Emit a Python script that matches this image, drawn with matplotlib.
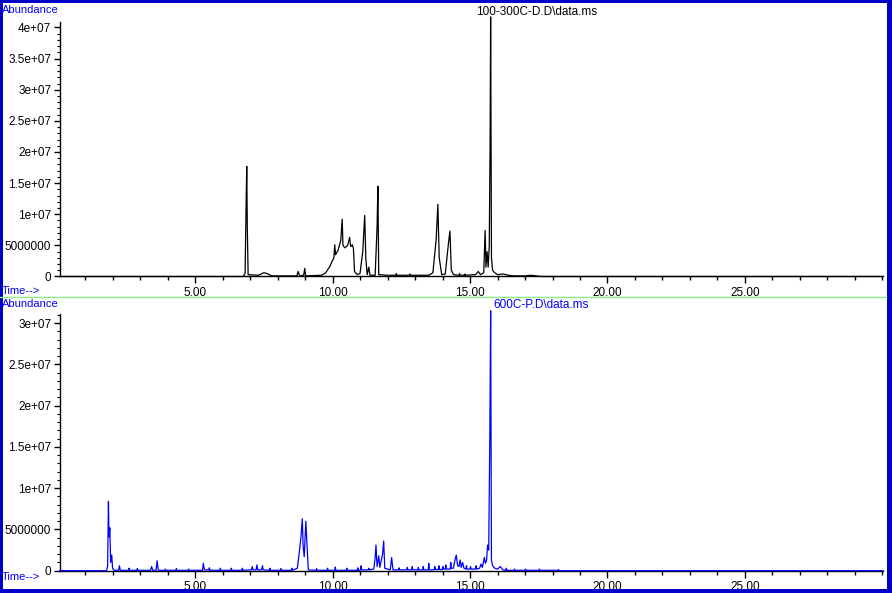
import numpy as np
import matplotlib
matplotlib.use("Agg")
import matplotlib.pyplot as plt
from matplotlib.ticker import FixedLocator, MultipleLocator, FixedFormatter
from matplotlib.lines import Line2D
from matplotlib.patches import Rectangle

plt.rcParams['font.family'] = ['Liberation Sans', 'DejaVu Sans']

# ---------------- data ----------------
top_title = "100-300C-D.D\\data.ms"
bottom_title = "600C-P.D\\data.ms"

# top chromatogram (time in min, abundance in millions)
top_time = [0.07, 6.75, 6.82, 6.86, 6.88, 6.90, 6.93, 7.3, 7.5, 7.6, 7.8, 8.7, 8.75, 8.8,
            8.95, 8.99, 9.02, 9.6, 9.75, 9.9, 10.0, 10.05, 10.08, 10.11, 10.2, 10.3, 10.35,
            10.38, 10.45, 10.55, 10.62, 10.66, 10.72, 10.76, 10.8, 10.9, 11.0, 11.1, 11.17,
            11.21, 11.26, 11.32, 11.36, 11.55, 11.62, 11.65, 11.68, 12.0, 12.3, 12.32, 12.34,
            12.8, 12.82, 12.84, 13.5,
            13.65, 13.77, 13.83, 13.88, 13.97, 14.1, 14.22, 14.27, 14.32, 14.4, 14.6, 14.62,
            14.64, 14.8, 14.82, 14.84, 15.2,
            15.3, 15.38, 15.5, 15.55, 15.58, 15.62, 15.66, 15.70, 15.73, 15.75, 15.78, 15.82,
            15.9, 16.0, 16.2, 16.4, 16.6, 17.0, 17.2, 17.4, 17.6, 30.02]
top_abund = [0, 0, 0.5, 12.5, 17.7, 8.0, 0.3, 0.2, 0.6, 0.5, 0.1, 0.1, 0.8, 0.1,
             0.2, 1.3, 0.1, 0.2, 0.6, 1.6, 2.6, 3.0, 5.1, 3.5, 4.2, 5.8, 9.2,
             5.0, 4.6, 5.0, 6.3, 4.8, 5.1, 4.5, 0.8, 0.3, 0.5, 4.0, 9.8,
             3.0, 0.3, 1.5, 0.2, 0.2, 8.0, 14.5, 0.3, 0.2, 0.2, 0.45, 0.2,
             0.2, 0.4, 0.2, 0.2,
             0.6, 6.0, 11.6, 3.0, 0.3, 0.4, 5.5, 7.3, 1.0, 0.3, 0.2, 0.45,
             0.2, 0.2, 0.4, 0.2, 0.3,
             0.8, 0.3, 0.6, 7.4, 1.5, 4.0, 1.5, 5.0, 21.0, 41.7, 3.0, 1.0,
             0.6, 0.3, 0.4, 0.2, 0.1, 0.1, 0.2, 0.1, 0.0, 0.0]

# bottom chromatogram (time in min, abundance in millions)
bot_time = [0.07, 1.78, 1.82, 1.85, 1.87, 1.90, 1.93, 1.97, 2.0, 2.05,
            2.22, 2.25, 2.28, 2.58, 2.6, 2.62, 2.88, 2.9, 2.92,
            3.38, 3.42, 3.46, 3.58, 3.62, 3.66, 3.9, 3.92, 3.94,
            4.3, 4.32, 4.34, 4.75, 4.77, 4.79, 5.27, 5.3, 5.34,
            5.5, 5.52, 5.54, 5.9, 5.92, 5.94, 6.3, 6.32, 6.34,
            6.7, 6.72, 6.74, 7.05, 7.08, 7.11, 7.22, 7.25, 7.28,
            7.42, 7.45, 7.48, 7.7, 7.72, 7.74, 8.1, 8.12, 8.14,
            8.5, 8.52, 8.54, 8.72, 8.80, 8.85, 8.90, 8.93, 8.97, 9.03, 9.07, 9.12,
            9.4, 9.42, 9.44, 9.8, 9.82, 9.84, 10.08, 10.1, 10.12,
            10.5, 10.52, 10.54, 10.9, 10.92, 10.94, 11.02, 11.04, 11.06,
            11.3, 11.32, 11.34, 11.5, 11.55, 11.58, 11.62, 11.68, 11.72, 11.82, 11.86, 11.9,
            12.1, 12.15, 12.2, 12.4, 12.42, 12.44, 12.7, 12.72, 12.74,
            12.88, 12.9, 12.92, 13.1, 13.12, 13.14, 13.28, 13.3, 13.32,
            13.48, 13.5, 13.52, 13.7, 13.72, 13.74, 13.85, 13.87, 13.89,
            14.0, 14.02, 14.04, 14.1, 14.12, 14.14, 14.28, 14.3, 14.32,
            14.4, 14.42, 14.5, 14.55, 14.6, 14.64, 14.68, 14.73, 14.78,
            14.85, 14.87, 14.89, 15.0, 15.02, 15.04, 15.2, 15.22, 15.24,
            15.35, 15.4, 15.45, 15.52, 15.56, 15.6, 15.64, 15.68, 15.72, 15.75, 15.78, 15.82,
            15.9, 16.0, 16.1, 16.2, 16.3, 16.32, 16.34, 16.6, 16.62, 16.64,
            17.0, 17.02, 17.04, 17.5, 17.52, 17.54, 18.2, 18.22, 18.24, 18.3, 30.02]
bot_abund = [0, 0, 0.5, 8.4, 4.1, 5.2, 1.0, 1.9, 0.3, 0.05,
             0.05, 0.6, 0.05, 0.05, 0.3, 0.05, 0.05, 0.25, 0.05,
             0.05, 0.5, 0.05, 0.05, 1.2, 0.05, 0.05, 0.2, 0.05,
             0.05, 0.25, 0.05, 0.05, 0.2, 0.05, 0.05, 0.9, 0.1,
             0.1, 0.35, 0.05, 0.05, 0.3, 0.05, 0.05, 0.3, 0.05,
             0.05, 0.3, 0.05, 0.1, 0.5, 0.1, 0.1, 0.7, 0.1,
             0.1, 0.6, 0.1, 0.05, 0.3, 0.05, 0.05, 0.25, 0.05,
             0.05, 0.3, 0.05, 0.3, 2.5, 4.0, 6.3, 3.0, 1.7, 6.0, 3.2, 0.1,
             0.05, 0.25, 0.05, 0.05, 0.3, 0.05, 0.05, 0.45, 0.05,
             0.05, 0.3, 0.05, 0.05, 0.35, 0.05, 0.05, 0.6, 0.1,
             0.1, 0.3, 0.1, 0.2, 1.6, 3.1, 0.5, 1.8, 0.4, 2.0, 3.6, 0.3,
             0.1, 1.6, 0.1, 0.1, 0.35, 0.1, 0.1, 0.4, 0.1,
             0.1, 0.5, 0.1, 0.1, 0.4, 0.1, 0.1, 0.5, 0.1,
             0.1, 0.9, 0.1, 0.1, 0.5, 0.15, 0.15, 0.6, 0.15,
             0.15, 0.5, 0.2, 0.2, 0.7, 0.2, 0.2, 1.0, 0.3,
             0.3, 0.8, 1.9, 0.6, 0.5, 1.3, 0.4, 1.0, 0.3,
             0.2, 0.6, 0.2, 0.2, 0.5, 0.2, 0.2, 0.6, 0.2,
             0.3, 0.8, 0.4, 1.6, 0.9, 1.2, 3.1, 2.5, 16.1, 31.5, 1.3, 0.6,
             0.3, 0.2, 0.5, 0.1, 0.05, 0.3, 0.05, 0.05, 0.2, 0.05,
             0.05, 0.2, 0.05, 0.05, 0.2, 0.05, 0.05, 0.15, 0.0, 0.0, 0.0]

x_major = [5, 10, 15, 20, 25]
x_labels = ["5.00", "10.00", "15.00", "20.00", "25.00"]
top_yticks = [0, 5e6, 1e7, 1.5e7, 2e7, 2.5e7, 3e7, 3.5e7, 4e7]
top_ylabels = ["0", "5000000", "1e+07", "1.5e+07", "2e+07", "2.5e+07", "3e+07", "3.5e+07", "4e+07"]
bot_yticks = [0, 5e6, 1e7, 1.5e7, 2e7, 2.5e7, 3e7]
bot_ylabels = ["0", "5000000", "1e+07", "1.5e+07", "2e+07", "2.5e+07", "3e+07"]

# ---------------- figure ----------------
W, H = 892, 593
fig = plt.figure(figsize=(W / 100, H / 100), dpi=100)
fig.patch.set_facecolor('white')

def px_axes(left, top, right, bottom):
    return fig.add_axes([left / W, 1 - bottom / H, (right - left) / W, (bottom - top) / H])

ax1 = px_axes(59.5, 22.5, 883, 276.5)
ax2 = px_axes(59.5, 314, 883, 570.7)

FS = 8.5

def style(ax, yticks, ylabels, ylim_top):
    ax.set_xlim(0.07, 30.02)
    ax.set_ylim(0, ylim_top)
    for s in ['top', 'right']:
        ax.spines[s].set_visible(False)
    for s in ['left', 'bottom']:
        ax.spines[s].set_linewidth(1.0)
        ax.spines[s].set_color('black')
    ax.xaxis.set_major_locator(FixedLocator(x_major))
    ax.xaxis.set_major_formatter(FixedFormatter(x_labels))
    ax.xaxis.set_minor_locator(MultipleLocator(1))
    ax.yaxis.set_major_locator(FixedLocator(yticks))
    ax.yaxis.set_major_formatter(FixedFormatter(ylabels))
    ax.yaxis.set_minor_locator(MultipleLocator(1e6))
    ax.tick_params(axis='x', which='major', length=5, width=1, pad=2.5, labelsize=FS, direction='out')
    ax.tick_params(axis='x', which='minor', length=3, width=1, direction='out')
    ax.tick_params(axis='y', which='major', length=4, width=1, pad=2, labelsize=FS, direction='out')
    ax.tick_params(axis='y', which='minor', length=2, width=0.8, direction='out')
    ax.patch.set_alpha(0)

ax1.plot(top_time, np.array(top_abund) * 1e6, color='black', lw=0.9, clip_on=False)
style(ax1, top_yticks, top_ylabels, 40.8e6)

ax2.plot(bot_time, np.array(bot_abund) * 1e6, color='#0000FF', lw=0.9, clip_on=False, zorder=3)
style(ax2, bot_yticks, bot_ylabels, 31.1e6)

# texts
blue = '#0000FF'
fig.text(2 / W, 1 - 10 / H, "Abundance", color=blue, fontsize=8, ha='left', va='center')
fig.text(2 / W, 1 - 291 / H, "Time-->", color=blue, fontsize=8, ha='left', va='center')
fig.text(2 / W, 1 - 304 / H, "Abundance", color=blue, fontsize=8, ha='left', va='center')
fig.text(2 / W, 1 - 577 / H, "Time-->", color=blue, fontsize=8, ha='left', va='center')
fig.text(476 / W, 1 - 12 / H, top_title, color='black', fontsize=FS, ha='left', va='center')
fig.text(493 / W, 1 - 305 / H, bottom_title, color=blue, fontsize=FS, ha='left', va='center')

# green separator
fig.add_artist(Line2D([0, 886 / W], [1 - 297 / H, 1 - 297 / H], transform=fig.transFigure,
                      color='#88EE88', lw=1.0))

# blue frame
bc = '#0000C8'
for (x, y, w, h) in [(0, 0, 2.5, H), (0, 0, W, 4), (0, H - 2.5, W, 2.5), (W - 5, 0, 5, H)]:
    fig.add_artist(Rectangle((x / W, y / H), w / W, h / H, transform=fig.transFigure,
                             facecolor=bc, edgecolor='none'))

fig.savefig('out.png', dpi=100)
